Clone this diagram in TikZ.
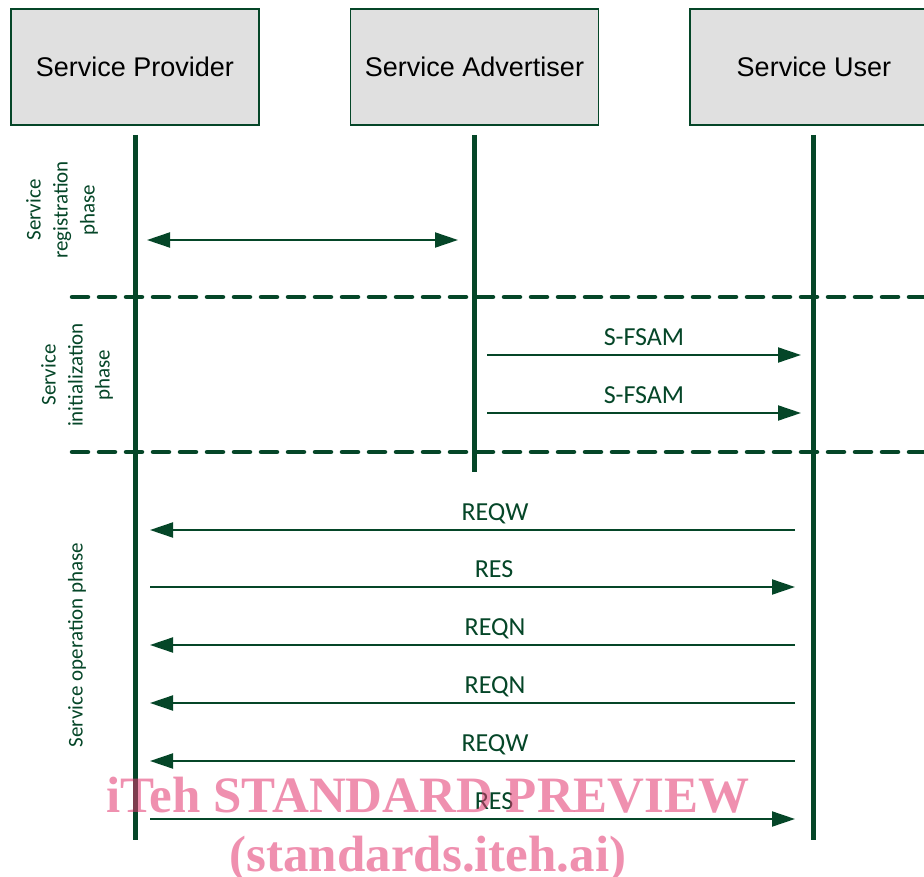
\documentclass[tikz,border=0pt]{standalone}
\usepackage{fontspec}
\setmainfont{Carlito}
\newfontfamily\boxfont{Liberation Sans}
\newfontfamily\markfont{Liberation Serif}
\usetikzlibrary{arrows.meta}

\definecolor{lanegreen}{RGB}{5,70,40}
\definecolor{boxgray}{RGB}{224,224,224}
\definecolor{markpink}{RGB}{227,53,111}

\begin{document}
\begin{tikzpicture}[x=1pt,y=1pt,yscale=-1,
    actor/.style={draw=lanegreen,line width=1.5pt,fill=boxgray,minimum width=248pt,minimum height=116pt,inner sep=0pt,font=\boxfont\fontsize{27}{32}\selectfont},
    lifeline/.style={draw=lanegreen,line width=5pt},
    phaseline/.style={draw=lanegreen,line width=4.5pt,line cap=round,dash pattern=on 16pt off 11pt},
    msg/.style={draw=lanegreen,line width=2pt,-{Triangle[length=23pt,width=15pt]}},
    msglabel/.style={text=lanegreen,font=\fontsize{26}{30}\selectfont,anchor=base,inner sep=0pt},
    phaselabel/.style={text=lanegreen,font=\fontsize{21}{27}\selectfont,align=center,rotate=90,inner sep=0pt},
    watermark/.style={text=markpink,text opacity=0.55,font=\markfont\bfseries\fontsize{51}{56}\selectfont,anchor=base,inner sep=0pt}
  ]
    % page
    \useasboundingbox [fill=white] (0,0) rectangle (924,877);

    % actors
    \node [actor] (provider) at (135,67) {Service Provider};
    \node [actor] (advertiser) at (474.5,67) {Service Advertiser};
    \node [actor] (user) at (814,67) {Service User};

    % lifelines
    \coordinate (providerend) at (135,840);
    \coordinate (advertiserend) at (474,472);
    \coordinate (userend) at (813,840);
    \draw [lifeline] (135,135) -- (providerend);
    \draw [lifeline] (474,135) -- (advertiserend);
    \draw [lifeline] (813,135) -- (userend);

    % phase borders
    \coordinate (regleft) at (72,297);
    \coordinate (regright) at (930,297);
    \coordinate (initleft) at (72,452);
    \coordinate (initright) at (930,452);
    \draw [phaseline] (regleft) -- (regright);
    \draw [phaseline] (initleft) -- (initright);

    % phase labels
    \node [phaselabel] (regphase) at (62,210) {Service\\registration\\phase};
    \node [phaselabel] (initphase) at (77,375) {Service\\initialization\\phase};
    \node [phaselabel] (opphase) at (77,645) {Service operation phase};

    % registration
    \coordinate (rega) at (147,240);
    \coordinate (regb) at (458,240);
    \draw [msg,{Triangle[length=23pt,width=15pt]}-{Triangle[length=23pt,width=15pt]}] (rega) -- (regb);

    % initialization
    \coordinate (inita) at (487,355);
    \coordinate (initb) at (801,355);
    \coordinate (initc) at (487,413);
    \coordinate (initd) at (801,413);
    \draw [msg] (inita) -- (initb);
    \draw [msg] (initc) -- (initd);
    \node [msglabel] (fsama) at (644,345) {S-FSAM};
    \node [msglabel] (fsamb) at (644,403) {S-FSAM};

    % operation
    \coordinate (opa) at (795,530);
    \coordinate (opb) at (150,530);
    \draw [msg] (opa) -- (opb);
    \node [msglabel] (reqwa) at (495,520) {REQW};
    \coordinate (opc) at (150,587);
    \coordinate (opd) at (795,587);
    \draw [msg] (opc) -- (opd);
    \node [msglabel] (resa) at (494,577) {RES};
    \coordinate (ope) at (795,645);
    \coordinate (opf) at (150,645);
    \draw [msg] (ope) -- (opf);
    \node [msglabel] (reqna) at (495,635) {REQN};
    \coordinate (opg) at (795,703);
    \coordinate (oph) at (150,703);
    \draw [msg] (opg) -- (oph);
    \node [msglabel] (reqnb) at (495,693) {REQN};
    \coordinate (opi) at (795,761);
    \coordinate (opj) at (150,761);
    \draw [msg] (opi) -- (opj);
    \node [msglabel] (reqwb) at (495,751) {REQW};
    \coordinate (opk) at (150,819);
    \coordinate (opl) at (795,819);
    \draw [msg] (opk) -- (opl);
    \node [msglabel] (resb) at (494,809) {RES};

    % watermark
    \node [watermark] (markone) at (428,812) {iTeh STANDARD PREVIEW};
    \node [watermark] (marktwo) at (428,871) {(standards.iteh.ai)};

\end{tikzpicture}
\end{document}
